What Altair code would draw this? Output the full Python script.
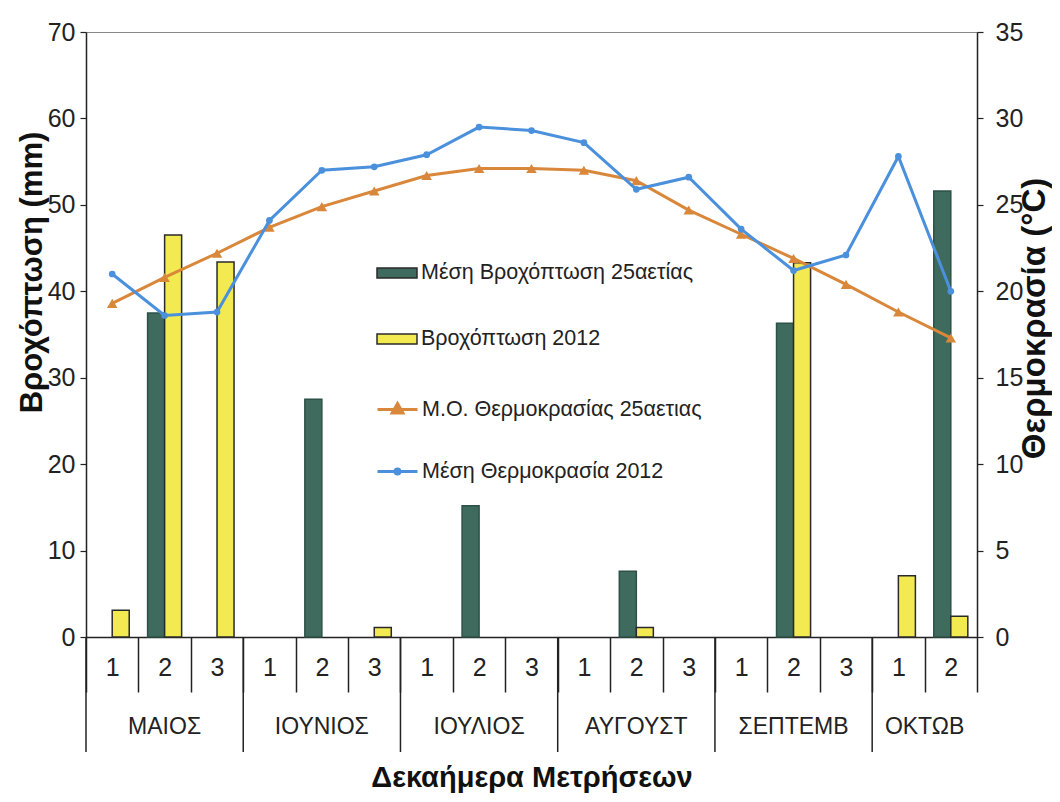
import json
import altair as alt
import pandas as pd

# ---------------- data ----------------
months = ["ΜΑΙΟΣ", "ΙΟΥΝΙΟΣ", "ΙΟΥΛΙΟΣ", "ΑΥΓΟΥΣΤ", "ΣΕΠΤΕΜΒ", "ΟΚΤΩΒ"]
dekads_per_month = [3, 3, 3, 3, 3, 2]

rain_25 = [0, 37.5, 0, 0, 27.5, 0, 0, 15.2, 0, 0, 7.6, 0, 0, 36.3, 0, 0, 51.6]
rain_2012 = [3.1, 46.5, 43.4, 0, 0, 1.1, 0, 0, 0, 0, 1.1, 0, 0, 43.3, 0, 7.1, 2.4]
temp_25 = [19.3, 20.8, 22.2, 23.7, 24.9, 25.8, 26.7, 27.1, 27.1, 27.0, 26.4, 24.7,
           23.3, 21.9, 20.4, 18.8, 17.3]
temp_2012 = [21.0, 18.6, 18.8, 24.1, 27.0, 27.2, 27.9, 29.5, 29.3, 28.6, 25.9, 26.6,
             23.6, 21.2, 22.1, 27.8, 20.0]

series_names = ["Μέση Βροχόπτωση 25αετίας", "Βροχόπτωση 2012",
                "Μ.Ο. Θερμοκρασίας 25αετιας", "Μέση Θερμοκρασία 2012"]
colors = ["#3e6b5e", "#f3ea52", "#d9873a", "#4a90dc"]

x_title = "Δεκαήμερα Μετρήσεων"
y_left_title = "Βροχόπτωση (mm)"
y_right_title = "Θερμοκρασία (°C)"

# ---------------- tables ----------------
keys = [f"{m}-{d}" for m, n in zip(months, dekads_per_month) for d in range(1, n + 1)]

rain_df = pd.DataFrame({
    "key": keys * 2,
    "series": [series_names[0]] * len(keys) + [series_names[1]] * len(keys),
    "mm": rain_25 + rain_2012,
})
temp_df = pd.DataFrame({"key": keys, "t25": temp_25, "t2012": temp_2012})
month_df = pd.DataFrame({
    "month": months,
    "n": dekads_per_month,
    "first": [f"{m}-1" for m in months],
    "mid": [f"{m}-2" for m in months],
})

FONT = "Liberation Sans, Arial, sans-serif"
INK = "#222222"

W, H = 891, 605

x_scale = alt.Scale(domain=keys, paddingInner=0, paddingOuter=0)
x_axis = alt.Axis(
    title=x_title, labelExpr="datum.value ? slice(datum.value, -1) : ''", labelAngle=0,
    tickBand="extent", tickSize=55, tickWidth=1.5, tickColor=INK,
    labelPadding=-37, labelFont=FONT, labelFontSize=25, labelColor=INK,
    domainColor=INK, domainWidth=1.5, grid=False,
    titleFont=FONT, titleFontSize=29, titleFontWeight="bold", titleColor="#111",
    titleY=149, titleBaseline="alphabetic",
)


def X(field, band=None):
    kw = dict(scale=x_scale, axis=x_axis)
    if band is not None:
        kw["bandPosition"] = band
    return alt.X(f"{field}:N", **kw)


left_axis = alt.Axis(
    orient="left", values=list(range(0, 71, 10)), grid=False,
    tickSize=6, tickWidth=1.2, tickColor=INK, domainColor=INK, domainWidth=1.5,
    labelPadding=5, labelFont=FONT, labelFontSize=25, labelColor=INK,
    title=y_left_title, titleFont=FONT, titleFontSize=31, titleFontWeight="bold",
    titleColor="#111", titleAngle=270, titleX=-45, titleY=240,
    titleBaseline="alphabetic",
)
right_axis = alt.Axis(
    orient="right", values=list(range(0, 36, 5)), grid=False,
    tickSize=6, tickWidth=1.2, tickColor=INK, domainColor=INK, domainWidth=1.5,
    labelPadding=12, labelFont=FONT, labelFontSize=25, labelColor=INK,
    title=y_right_title, titleFont=FONT, titleFontSize=33, titleFontWeight="bold",
    titleColor="#111", titleAngle=270, titleX=67, titleY=286,
    titleBaseline="alphabetic",
)

legend_common = dict(title=None, orient="none", symbolSize=1600, labelFont=FONT,
                     labelFontSize=21.5, labelColor=INK, labelOffset=3, labelLimit=500)

# ---------------- rain bars ----------------
bars = alt.Chart(rain_df).transform_filter("datum.mm > 0").mark_bar(strokeWidth=1.5).encode(
    x=X("key"),
    xOffset=alt.XOffset("series:N", scale=alt.Scale(domain=series_names[:2],
                                                     paddingInner=0, paddingOuter=0.54)),
    y=alt.Y("mm:Q", scale=alt.Scale(domain=[0, 70]), axis=left_axis),
    fill=alt.Fill("series:N", scale=alt.Scale(domain=series_names[:2], range=colors[:2]),
                  legend=alt.Legend(legendX=290, legendY=220, rowPadding=34,
                                    symbolType="M-1,-0.25H1V0.25H-1Z",
                                    symbolStrokeColor="#2a2a2a", symbolStrokeWidth=1.5,
                                    **legend_common)),
    stroke=alt.condition(f"datum.series === {json.dumps(series_names[1])}",
                         alt.value("#2a2a2a"), alt.value("#2d5147")),
)

month_text3 = alt.Chart(month_df).transform_filter("datum.n == 3").mark_text(
    font=FONT, fontSize=23, color=INK, baseline="middle").encode(
    x=X("mid"), y=alt.value(695), text="month:N")
month_text2 = alt.Chart(month_df).transform_filter("datum.n == 2").mark_text(
    font=FONT, fontSize=23, color=INK, baseline="middle").encode(
    x=X("mid", band=0), y=alt.value(695), text="month:N")
month_rules = alt.Chart(month_df).mark_rule(color=INK, strokeWidth=1.5).encode(
    x=X("first", band=0), y=alt.value(H), y2=alt.value(720))

rain_layer = alt.layer(bars, month_rules, month_text3, month_text2)

# ---------------- temperature lines ----------------
t_scale = alt.Scale(domain=[0, 35])

orange_line = alt.Chart(temp_df).transform_calculate(
    s=json.dumps(series_names[2])).mark_line(strokeWidth=3).encode(
    x=X("key"), y=alt.Y("t25:Q", scale=t_scale, axis=right_axis),
    stroke=alt.Stroke("s:N", scale=alt.Scale(domain=[series_names[2]], range=[colors[2]]),
                      legend=alt.Legend(legendX=290, legendY=356,
                                        symbolType="M-1,0H1M0,-0.3L0.27,0.18L-0.27,0.18Z",
                                        symbolStrokeWidth=3, symbolFillColor=colors[2],
                                        **legend_common)))
orange_pts = alt.Chart(temp_df).mark_point(shape="triangle-up", filled=True, size=110,
                                           color=colors[2], opacity=1).encode(
    x=X("key"), y=alt.Y("t25:Q", scale=t_scale, axis=right_axis))

blue_line = alt.Chart(temp_df).transform_calculate(
    s=json.dumps(series_names[3])).mark_line(strokeWidth=3).encode(
    x=X("key"), y=alt.Y("t2012:Q", scale=t_scale, axis=right_axis),
    stroke=alt.Stroke("s:N", scale=alt.Scale(domain=[series_names[3]], range=[colors[3]]),
                      legend=alt.Legend(legendX=290, legendY=418,
                                        symbolType="M-1,0H1M0.12,0A0.12,0.12,0,1,1,-0.12,0A0.12,0.12,0,1,1,0.12,0Z",
                                        symbolStrokeWidth=3, symbolFillColor=colors[3],
                                        **legend_common)))
blue_pts = alt.Chart(temp_df).mark_point(shape="circle", filled=True, size=45,
                                         color=colors[3], opacity=1).encode(
    x=X("key"), y=alt.Y("t2012:Q", scale=t_scale, axis=right_axis))

temp_layer = alt.layer(orange_line, orange_pts, blue_line, blue_pts).resolve_scale(
    stroke="independent")

chart = alt.layer(rain_layer, temp_layer).resolve_scale(
    y="independent", stroke="independent"
).properties(
    width=W, height=H,
    padding={"left": 78, "top": 24, "right": 75, "bottom": 157},
    autosize=alt.AutoSizeParams(type="none"),
    background="white",
).configure_view(stroke="#888888", strokeWidth=1).configure_axis(grid=False)

chart.save("out.html", embed_options={"renderer": "svg", "actions": False})
